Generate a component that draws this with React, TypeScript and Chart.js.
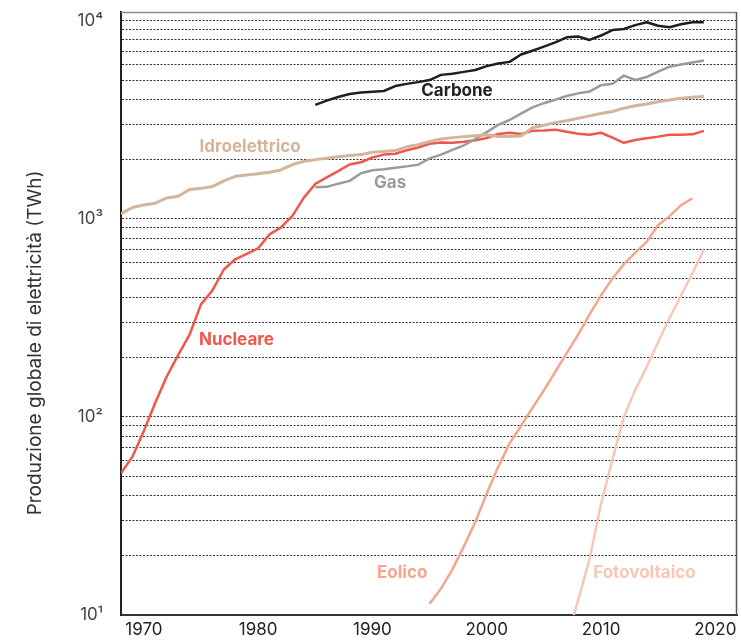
import React, { useEffect, useRef } from 'react';
import { Chart, registerables } from 'chart.js';

Chart.register(...registerables);

const FONT = 'Inter, "Noto Sans", sans-serif';

// ---- Data (TWh) ----
const nucleareStart = 1968;
const nucleare = [
  52, 63, 85, 118, 160, 205, 260, 370, 435, 555, 625, 665, 710, 835, 905, 1035, 1280, 1500, 1620, 1740,
  1880, 1930, 2040, 2110, 2130, 2220, 2290, 2390, 2430, 2420, 2450, 2490, 2560, 2680, 2720, 2680, 2780,
  2790, 2820, 2750, 2690, 2660, 2720, 2570, 2420, 2500, 2550, 2600, 2660, 2660, 2670, 2780,
];

const idroStart = 1968;
const idro = [
  1060, 1140, 1175, 1200, 1275, 1300, 1405, 1425, 1455, 1555, 1640, 1665, 1690, 1720, 1765, 1880, 1950,
  1990, 2020, 2060, 2090, 2110, 2170, 2190, 2210, 2310, 2370, 2460, 2530, 2570, 2600, 2630, 2660, 2605,
  2605, 2620, 2880, 2970, 3060, 3130, 3220, 3310, 3400, 3480, 3620, 3720, 3800, 3900, 3980, 4060, 4110, 4140,
];

const carboneStart = 1985;
const carbone = [
  3760, 3950, 4120, 4270, 4340, 4380, 4420, 4680, 4800, 4900, 5020, 5330, 5400, 5520, 5640, 5900, 6080,
  6200, 6750, 7060, 7400, 7780, 8250, 8320, 8000, 8420, 8980, 9080, 9500, 9820, 9440, 9270, 9600, 9820, 9820,
];

const gasStart = 1985;
const gas = [
  1445, 1450, 1505, 1555, 1700, 1760, 1780, 1810, 1840, 1875, 2020, 2110, 2230, 2350, 2530, 2740, 2980,
  3155, 3400, 3655, 3835, 3990, 4170, 4300, 4390, 4730, 4810, 5285, 5020, 5200, 5530, 5860, 6010, 6150, 6300,
];

const eolicoStart = 1995;
const eolico = [
  11.4, 13.6, 17, 22.2, 29.5, 41, 55.8, 73.5, 90, 111, 136, 169, 210, 260, 329, 411, 499, 590, 675, 765,
  931, 1032, 1172, 1270,
];

const fotovoltaicoStart = 2007;
const fotovoltaico = [7.5, 11.9, 19.2, 36.2, 61, 100, 137, 179, 239, 316, 410, 531, 700];

// ---- Axes ----
const xMin = 1968;
const xMax = 2021.9;
const xTicks = [1970, 1980, 1990, 2000, 2010, 2020];
const yMin = 10;
const yMax = 11070;
const yTicks = [
  10, 20, 30, 40, 50, 60, 70, 80, 90,
  100, 200, 300, 400, 500, 600, 700, 800, 900,
  1000, 2000, 3000, 4000, 5000, 6000, 7000, 8000, 9000,
  10000,
];
const yTickLabels: Record<number, string> = { 10: '10¹', 100: '10²', 1000: '10³', 10000: '10⁴' };
const yTitle = 'Produzione globale di elettricità (TWh)';

// ---- Series labels (anchored in data coordinates) ----
const seriesLabels = [
  { text: 'Carbone', year: 1997.4, value: 4400, color: '#222222' },
  { text: 'Idroelettrico', year: 1979.3, value: 2305, color: '#d4b49b' },
  { text: 'Gas', year: 1991.55, value: 1517, color: '#9b9b9b' },
  { text: 'Nucleare', year: 1978.1, value: 244, color: '#f0574b' },
  { text: 'Eolico', year: 1992.6, value: 16.3, color: '#f5a58f' },
  { text: 'Fotovoltaico', year: 2013.8, value: 16.3, color: '#f8c7b5' },
];

const toPoints = (start: number, vals: number[]) => vals.map((v, i) => ({ x: start + i, y: v }));

const overlayPlugin = {
  id: 'overlay',
  beforeDatasetsDraw(chart: any) {
    const { ctx, chartArea } = chart;
    ctx.save();
    ctx.lineWidth = 1.5;
    ctx.strokeStyle = '#8a8a8a';
    ctx.beginPath();
    ctx.moveTo(chartArea.left, chartArea.top + 0.5);
    ctx.lineTo(chartArea.right, chartArea.top + 0.5);
    ctx.stroke();
    ctx.strokeStyle = '#555';
    ctx.beginPath();
    ctx.moveTo(chartArea.right - 0.5, chartArea.top);
    ctx.lineTo(chartArea.right - 0.5, chartArea.bottom);
    ctx.stroke();
    ctx.restore();
  },
  afterDatasetsDraw(chart: any) {
    const { ctx, scales } = chart;
    ctx.save();
    ctx.font = `bold 17px ${FONT}`;
    ctx.textAlign = 'center';
    ctx.textBaseline = 'middle';
    for (const l of seriesLabels) {
      ctx.fillStyle = l.color;
      ctx.fillText(l.text, scales.x.getPixelForValue(l.year), scales.y.getPixelForValue(l.value));
    }
    // y axis title
    ctx.translate(35, 343);
    ctx.rotate(-Math.PI / 2);
    ctx.font = `19px ${FONT}`;
    ctx.fillStyle = '#333';
    ctx.fillText(yTitle, 0, 0);
    ctx.restore();
  },
};

function App() {
  const ref = useRef<HTMLCanvasElement | null>(null);
  useEffect(() => {
    if (!ref.current) return;
    const mk = (label: string, data: any[], color: string, width: number) => ({
      label,
      data,
      borderColor: color,
      backgroundColor: color,
      borderWidth: width,
      pointRadius: 0,
      tension: 0,
      fill: false,
    });
    const chart = new Chart(ref.current, {
      type: 'line',
      data: {
        datasets: [
          mk('Fotovoltaico', toPoints(fotovoltaicoStart, fotovoltaico), '#f8c7b5', 2.5),
          mk('Eolico', toPoints(eolicoStart, eolico), '#f5a58f', 2.5),
          mk('Idroelettrico', toPoints(idroStart, idro), '#d4b49b', 3),
          mk('Gas', toPoints(gasStart, gas), '#9b9b9b', 2.5),
          mk('Nucleare', toPoints(nucleareStart, nucleare), '#f0574b', 2.5),
          mk('Carbone', toPoints(carboneStart, carbone), '#1e1e1e', 2.5),
        ],
      },
      options: {
        animation: false,
        responsive: false,
        parsing: false as any,
        layout: { padding: { top: 12, right: 4, left: 0, bottom: 0 } },
        plugins: { legend: { display: false }, tooltip: { enabled: false } },
        elements: { line: { borderCapStyle: 'butt', borderJoinStyle: 'round' } },
        scales: {
          x: {
            type: 'linear',
            min: xMin,
            max: xMax,
            afterBuildTicks: (s: any) => {
              s.ticks = xTicks.map((v) => ({ value: v }));
            },
            afterFit: (s: any) => {
              s.height = 27;
              s.paddingLeft = 0;
              s.paddingRight = 0;
            },
            grid: { display: false, drawTicks: false },
            border: { display: true, color: '#333', width: 2 },
            ticks: {
              padding: 5,
              maxRotation: 0,
              autoSkip: false,
              color: '#222',
              font: { family: FONT, size: 17 },
              callback: (v: any) => String(v),
            },
          },
          y: {
            type: 'logarithmic',
            min: yMin,
            max: yMax,
            afterBuildTicks: (s: any) => {
              s.ticks = yTicks.map((v) => ({ value: v }));
            },
            afterFit: (s: any) => {
              s.width = 121;
              s.paddingTop = 0;
              s.paddingBottom = 0;
            },
            grid: {
              color: 'rgba(30,30,30,0.9)',
              lineWidth: 1,
              drawTicks: false,
            },
            border: { display: true, color: '#222', width: 2, dash: [2, 1.5] },
            ticks: {
              padding: 18,
              autoSkip: false,
              color: '#444',
              font: { family: FONT, size: 17 },
              callback: (v: any) => yTickLabels[v as number] ?? '',
            },
          },
        },
      },
      plugins: [overlayPlugin],
    });
    return () => chart.destroy();
  }, []);
  return (
    <div style={{ position: 'absolute', left: 0, top: 0, width: 741, height: 642, background: '#fff' }}>
      <canvas ref={ref} width={741} height={642} style={{ display: 'block' }} />
    </div>
  );
}

export default App;
